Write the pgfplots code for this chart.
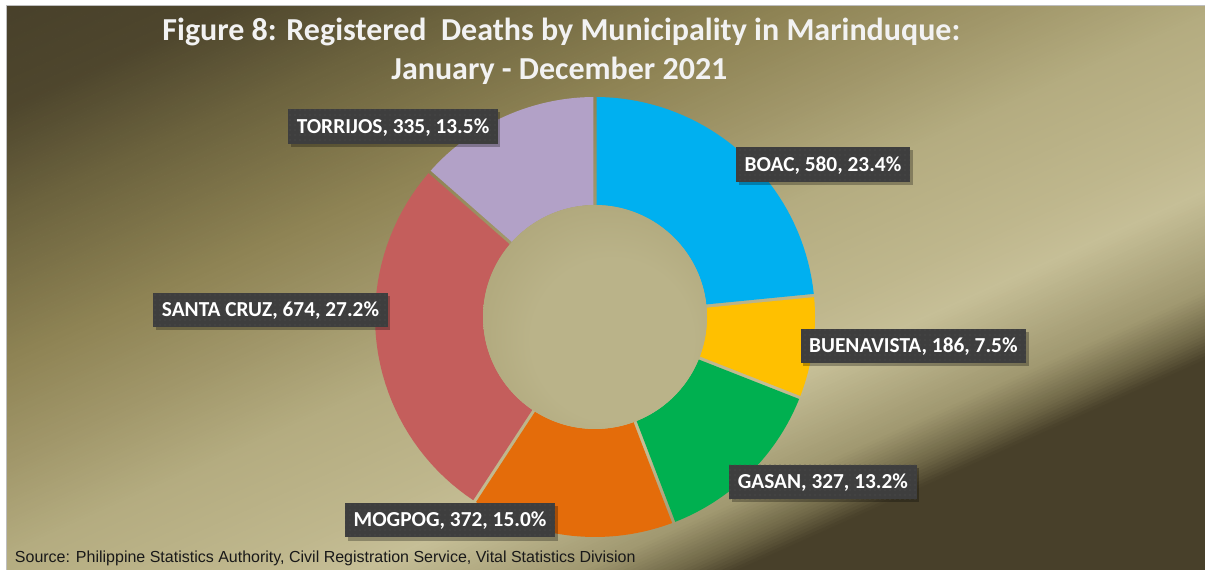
\documentclass[border=0pt]{standalone}
\usepackage{pgfplots}
\pgfplotsset{compat=1.18}
\usepackage{fontspec}
\setmainfont{Carlito}
\newfontfamily\arialf{Liberation Sans}
\usetikzlibrary{shadows,patterns.meta}

% slice colours
\definecolor{cBoac}{RGB}{0,176,240}
\definecolor{cBuena}{RGB}{255,192,0}
\definecolor{cGasan}{RGB}{0,176,80}
\definecolor{cMog}{RGB}{228,108,10}
\definecolor{cSanta}{RGB}{196,94,92}
\definecolor{cTorr}{RGB}{178,161,199}
\definecolor{lblgray}{RGB}{62,62,62}
\definecolor{lbldot}{RGB}{80,80,80}
\definecolor{framegray}{RGB}{190,190,190}
% background gradient stops
\definecolor{g0}{RGB}{72,64,42}
\definecolor{g1}{RGB}{78,70,45}
\definecolor{g2}{RGB}{108,99,62}
\definecolor{g3}{RGB}{142,131,84}
\definecolor{g4}{RGB}{160,150,105}
\definecolor{g5}{RGB}{180,172,128}
\definecolor{g6}{RGB}{191,183,141}
\definecolor{g7}{RGB}{198,191,151}
\definecolor{g8}{RGB}{160,152,112}
\definecolor{g9}{RGB}{110,102,70}
\definecolor{hA}{RGB}{186,179,137}
\definecolor{hB}{RGB}{168,159,114}
\definecolor{hC}{RGB}{140,131,86}

\pgfdeclareradialshading{holeshade}{\pgfpoint{6bp}{-8bp}}{color(0bp)=(hA); color(18bp)=(hA); color(40bp)=(hB); color(50bp)=(hC)}

\newcommand\bgseg[4]{%
  \pgfmathtruncatemacro\nn{max(1,round((#2-#1)/3))}%
  \foreach \i in {1,...,\nn}{%
    \pgfmathsetmacro\da{#1+(#2-#1)*(\i-1)/\nn}%
    \pgfmathsetmacro\db{#1+(#2-#1)*\i/\nn+0.6}%
    \pgfmathsetmacro\pp{100*(\i-0.5)/\nn}%
    \fill[#4!\pp!#3] (\da*0.75pt,-1500pt) rectangle (\db*0.75pt,1500pt);%
  }}

% data
\pgfmathsetmacro\total{580+186+327+372+674+335}
\gdef\curang{90}
\newcommand\slice[2]{% value, colour
  \pgfmathsetmacro\aS{\curang}%
  \pgfmathsetmacro\aE{\curang-360*(#1/\total)}%
  \global\let\curang\aE
  \pgfmathsetmacro\Ao{\aS-0.43}%
  \pgfmathsetmacro\Do{(\aE+0.43)-(\Ao)}%
  \pgfmathsetmacro\Bi{\aE+0.84}%
  \pgfmathsetmacro\Di{(\aS-0.84)-(\Bi)}%
  \edef\tmp{\noexpand\addplot[fill=#2,draw=none,variable=\noexpand\tpar,
    samples at={0,1,...,40,100,101,...,140}]
    ({ifthenelse(\noexpand\tpar<50,1,0.509)*cos(ifthenelse(\noexpand\tpar<50,(\Ao)+(\Do)*\noexpand\tpar/40,(\Bi)+(\Di)*(\noexpand\tpar-100)/40))},
     {ifthenelse(\noexpand\tpar<50,1,0.509)*sin(ifthenelse(\noexpand\tpar<50,(\Ao)+(\Do)*\noexpand\tpar/40,(\Bi)+(\Di)*(\noexpand\tpar-100)/40))}) -- cycle;}%
  \tmp}

\tikzset{lbl/.style={fill=lblgray, text=white,
  font=\bfseries\fontsize{16}{19}\selectfont,
  text height=10.3pt, text depth=0pt, inner ysep=7.8pt, inner xsep=6.4pt,
  drop shadow={shadow xshift=2pt, shadow yshift=-2.4pt, opacity=0.28, fill=black},
  postaction={pattern={Dots[distance=3.75pt,radius=0.45pt]}, pattern color=lbldot}}}

\begin{document}
\begin{tikzpicture}
\fill[white] (0,0) rectangle (903.75pt,427.5pt);
\begin{scope}
  \clip (4.5pt,0pt) rectangle (903.75pt,423pt);
  \begin{scope}[shift={(0pt,427.5pt)}, rotate=-65.8]
    \bgseg{0}{100}{g0}{g1}
    \bgseg{100}{200}{g1}{g2}
    \bgseg{200}{330}{g2}{g3}
    \bgseg{330}{420}{g3}{g4}
    \bgseg{420}{510}{g4}{g5}
    \bgseg{510}{620}{g5}{g6}
    \bgseg{620}{670}{g6}{g7}
    \bgseg{670}{760}{g7}{g8}
    \bgseg{760}{800}{g8}{g9}
    \bgseg{800}{822}{g9}{g0}
    \fill[g0] (822*0.75pt,-1500pt) rectangle (1100*0.75pt,1500pt);
  \end{scope}
\end{scope}
\draw[framegray, line width=0.9pt] (4.9pt,0pt) -- (4.9pt,423.4pt) -- (903.75pt,423.4pt);

\begin{axis}[at={(446.25pt,189.75pt)}, anchor=origin, x=165pt, y=165pt,
  hide axis, xmin=-2.2, xmax=2.4, ymin=-1.1, ymax=1.3, clip=false]
  \slice{580}{cBoac}
  \slice{186}{cBuena}
  \slice{327}{cGasan}
  \slice{372}{cMog}
  \slice{674}{cSanta}
  \slice{335}{cTorr}
  \shade[shading=holeshade] (axis cs:0,0) circle[radius=84pt];
  \node[lbl] at (axis cs:1.036,0.693) {BOAC, 580, 23.4\%};
  \node[lbl] at (axis cs:1.447,-0.131) {BUENAVISTA, 186, 7.5\%};
  \node[lbl] at (axis cs:1.036,-0.750) {GASAN, 327, 13.2\%};
  \node[lbl] at (axis cs:-0.659,-0.923) {MOGPOG, 372, 15.0\%};
  \node[lbl] at (axis cs:-1.475,0.032) {SANTA CRUZ, 674, 27.2\%};
  \node[lbl] at (axis cs:-0.918,0.867) {TORRIJOS, 335, 13.5\%};
\end{axis}

\node[anchor=base, inner sep=0pt, text={rgb,255:red,242;green,242;blue,242}, font=\bfseries\fontsize{24}{29}\selectfont]
  at (421pt,397pt) {Figure 8: Registered\ \ Deaths by Municipality in Marinduque:};
\node[anchor=base, inner sep=0pt, text={rgb,255:red,242;green,242;blue,242}, font=\bfseries\fontsize{24}{29}\selectfont]
  at (419.6pt,367.5pt) {January - December 2021};
\node[anchor=base west, inner sep=0pt, text={rgb,255:red,25;green,25;blue,25}, font=\arialf\fontsize{12}{14}\selectfont]
  at (11pt,5.5pt) {Source: Philippine Statistics Authority, Civil Registration Service, Vital Statistics Division};

\pgfresetboundingbox
\useasboundingbox (0,0) rectangle (903.75pt,427.5pt);
\end{tikzpicture}
\end{document}
